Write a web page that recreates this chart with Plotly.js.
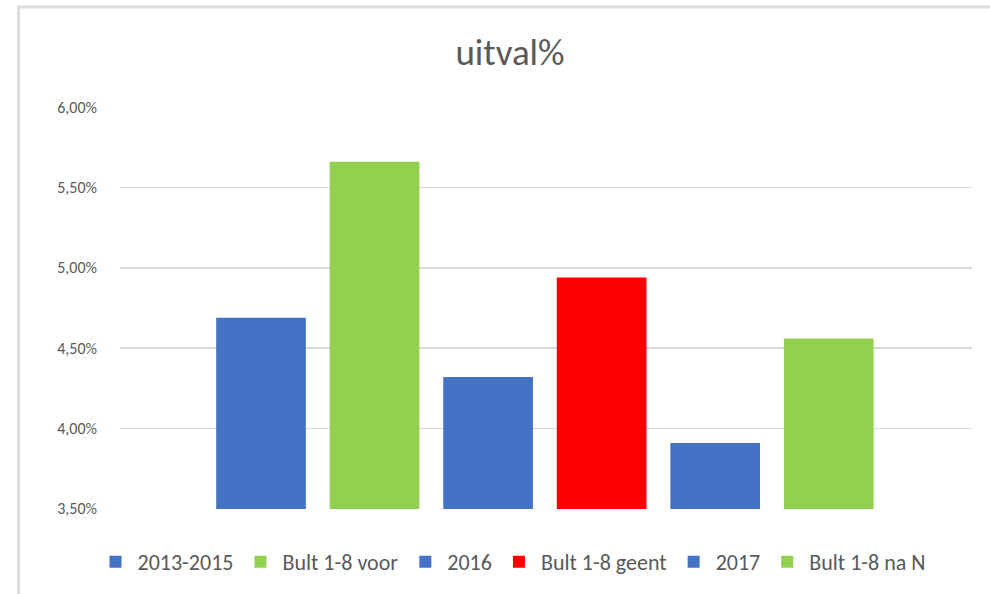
<!DOCTYPE html>
<html>
<head>
<meta charset="utf-8">
<script src="https://cdn.plot.ly/plotly-3.0.1.min.js"></script>
<style>
html,body{margin:0;padding:0;background:#fff;}
#chart{width:990px;height:594px;}
</style>
</head>
<body>
<div id="chart"></div>
<script>
const categories = ["2013-2015", "Bult 1-8 voor", "2016", "Bult 1-8 geent", "2017", "Bult 1-8 na N"];
const values = [4.69, 5.66, 4.32, 4.94, 3.91, 4.56];
const colors = ["#4472C4", "#92D050", "#4472C4", "#FF0000", "#4472C4", "#92D050"];
const yTicks = [3.5, 4.0, 4.5, 5.0, 5.5, 6.0];
const yTickText = yTicks.map(v => v.toFixed(2).replace(".", ",") + "%");

const FONT = "Carlito, Calibri, Lato, sans-serif";
const TXT = "#595959";

const traces = categories.map((c, i) => ({
  type: "bar",
  name: c,
  x: [c],
  y: [values[i]],
  width: 0.79,
  marker: {color: colors[i], line: {width: 0}},
  hoverinfo: "name+y"
}));

const plotL = 120, plotR = 972, plotT = 107, plotB = 509;
const pw = plotR - plotL, ph = plotB - plotT;
const px2x = p => (p - plotL) / pw;
const py2y = p => (plotB - p) / ph;

const layout = {
  width: 990, height: 594,
  paper_bgcolor: "#ffffff", plot_bgcolor: "#ffffff",
  margin: {l: plotL, r: 990 - plotR, t: plotT, b: 594 - plotB, pad: 0},
  barmode: "overlay",
  showlegend: true,
  title: {
    text: "uitval%",
    font: {family: FONT, size: 37, color: TXT},
    x: 510 / 990, xref: "container", xanchor: "center",
    y: 1 - 52 / 594, yref: "container", yanchor: "middle"
  },
  xaxis: {
    type: "category",
    categoryorder: "array", categoryarray: categories,
    range: [-1.242, 6.262],
    showticklabels: false, showgrid: false, zeroline: false, showline: false, ticks: ""
  },
  yaxis: {
    range: [3.499, 6.001],
    tickmode: "array",
    tickvals: yTicks,
    ticktext: yTickText,
    showgrid: true, gridcolor: "#d9d9d9", gridwidth: 1.5,
    zeroline: false, showline: false, ticks: "",
    ticklabelstandoff: 22,
    tickfont: {family: FONT, size: 16, color: TXT}
  },
  legend: {
    orientation: "h",
    xref: "container", x: 512 / 990, xanchor: "center",
    yref: "container", y: (594 - 562) / 594, yanchor: "middle",
    font: {family: FONT, size: 22, color: TXT},
    itemwidth: 34,
    itemclick: false, itemdoubleclick: false,
    traceorder: "normal"
  },
  shapes: [
    {type: "line", xref: "paper", yref: "paper",
     x0: px2x(18.5), x1: px2x(18.5), y0: py2y(7), y1: py2y(600),
     line: {color: "#dedede", width: 3}},
    {type: "line", xref: "paper", yref: "paper",
     x0: px2x(17), x1: px2x(1000), y0: py2y(7), y1: py2y(7),
     line: {color: "#dedede", width: 3}}
  ]
};

Plotly.newPlot("chart", traces, layout, {displayModeBar: false, staticPlot: true});
</script>
</body>
</html>
